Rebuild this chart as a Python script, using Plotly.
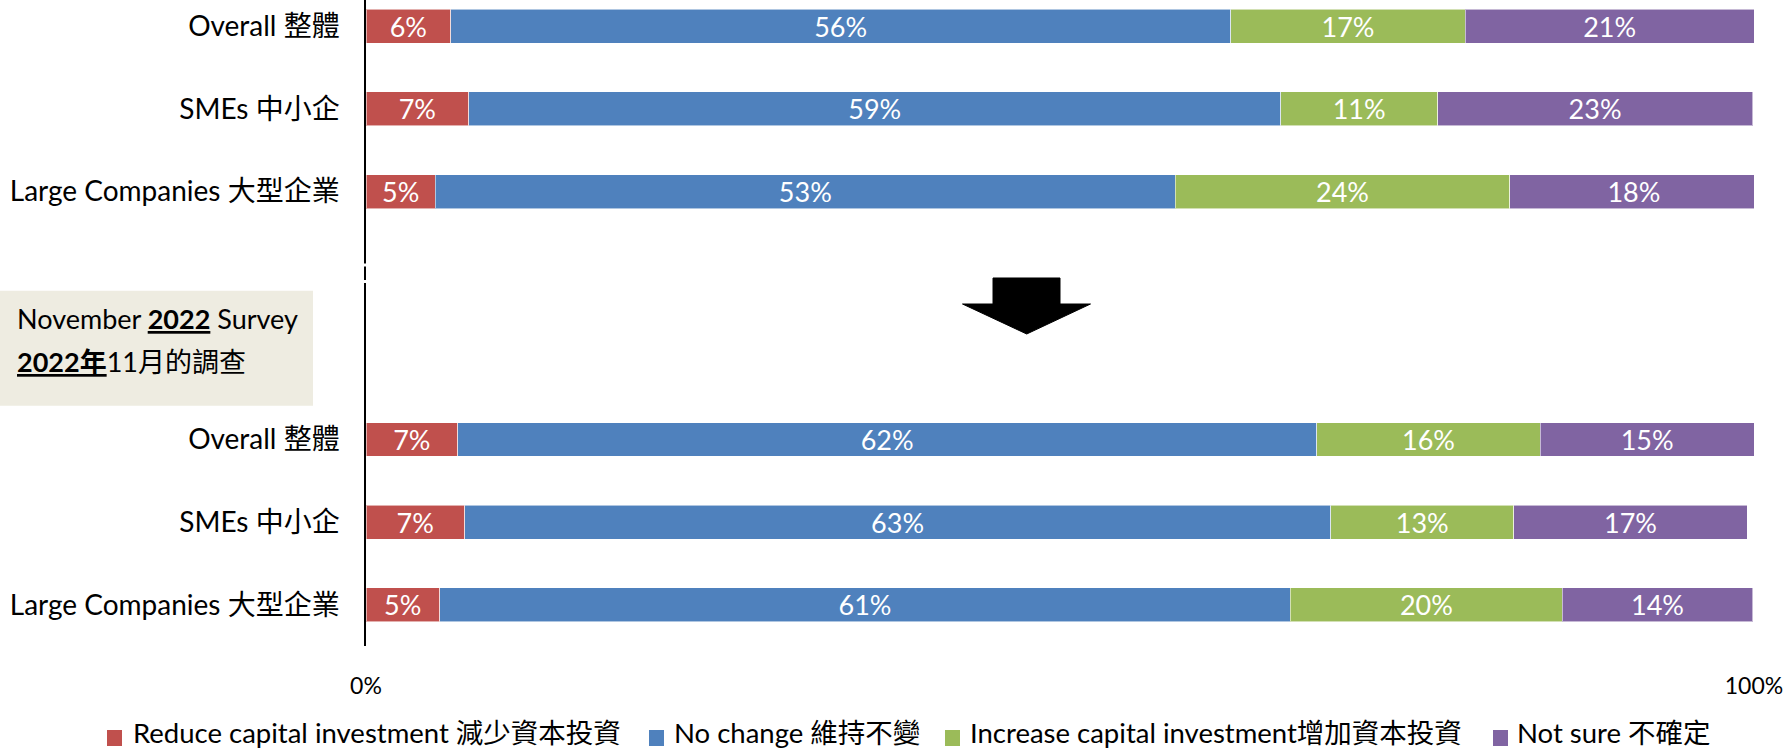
import plotly.graph_objects as go

# ---------------- data ----------------
categories = ["Overall 整體", "SMEs 中小企", "Large Companies 大型企業",
              "Overall 整體", "SMEs 中小企", "Large Companies 大型企業"]
cat_pos = [0, 1, 2, 5, 6, 7]   # slots 3 and 4 left empty (gap between surveys)

series_names = ["Reduce capital investment 減少資本投資", "No change 維持不變",
                "Increase capital investment增加資本投資", "Not sure 不確定"]
colors = ["#C0504D", "#4F81BD", "#9BBB59", "#8064A2"]

reduce_vals   = [6.1, 7.4, 5.0, 6.6, 7.1, 5.3]
nochange_vals = [56.2, 58.5, 53.3, 61.9, 62.4, 61.3]
increase_vals = [16.9, 11.3, 24.1, 16.1, 13.2, 19.6]
notsure_vals  = [20.8, 22.7, 17.9, 15.4, 16.8, 13.7]

reduce_lbl   = ["6%", "7%", "5%", "7%", "7%", "5%"]
nochange_lbl = ["56%", "59%", "53%", "62%", "63%", "61%"]
increase_lbl = ["17%", "11%", "24%", "16%", "13%", "20%"]
notsure_lbl  = ["21%", "23%", "18%", "15%", "17%", "14%"]

x_tickvals = [0, 100]
x_ticktext = ["0%", "100%"]

# ---------------- figure ----------------
W, H = 1785, 750
ML, MR, MT, MB = 366, 31, 0, 104
PW, PH = W - ML - MR, H - MT - MB

FONT = "Lato, 'Noto Sans CJK TC', 'Noto Sans', sans-serif"

def xp(px):
    return (px - ML) / PW

def yp(py):
    return 1 - (py - MT) / PH

fig = go.Figure()
all_vals = [reduce_vals, nochange_vals, increase_vals, notsure_vals]
all_lbls = [reduce_lbl, nochange_lbl, increase_lbl, notsure_lbl]
for name, col, vals, lbls in zip(series_names, colors, all_vals, all_lbls):
    fig.add_trace(go.Bar(
        x=vals, y=cat_pos, orientation="h", name=name,
        marker=dict(color=col, line=dict(color="rgba(255,255,255,0.55)", width=1)),
        width=0.41,
        text=lbls, textposition="inside", insidetextanchor="middle",
        textangle=0, constraintext="none",
        textfont=dict(family=FONT, size=27, color="white"),
        hoverinfo="skip", showlegend=False,
    ))

fig.update_layout(
    width=W, height=H, barmode="stack",
    margin=dict(l=ML, r=MR, t=MT, b=MB, pad=0, autoexpand=False),
    plot_bgcolor="white", paper_bgcolor="white",
    font=dict(family=FONT, size=25, color="black"),
    showlegend=False,
    xaxis=dict(range=[0, 100], tickvals=x_tickvals, ticktext=x_ticktext,
               showgrid=False, zeroline=False, showline=False, ticks="",
               ticklabelstandoff=24, tickfont=dict(family=FONT, size=23, color="black"),
               fixedrange=True),
    yaxis=dict(range=[7.499, -0.318], tickvals=cat_pos, ticktext=categories,
               showgrid=False, zeroline=False, showline=True, linecolor="black", linewidth=1.5,
               ticks="", ticklabelstandoff=19, tickfont=dict(family=FONT, size=28, color="black"),
               fixedrange=True),
)

shapes = []
# breaks in the vertical axis line
for y0, y1 in [(263.5, 266.5), (280, 283)]:
    shapes.append(dict(type="rect", xref="paper", yref="paper",
                       x0=xp(ML - 3), x1=xp(ML + 3), y0=yp(y1), y1=yp(y0),
                       fillcolor="white", line=dict(width=0), layer="above"))
# survey label box
shapes.append(dict(type="rect", xref="paper", yref="paper",
                   x0=xp(0), x1=xp(313), y0=yp(405.7), y1=yp(290.7),
                   fillcolor="#EEECE1", line=dict(width=0), layer="below"))
# down arrow
pts = [(993, 278), (1060, 278), (1060, 304), (1090.5, 304), (1026.7, 334),
       (962.5, 304), (993, 304)]
path = "M " + " L ".join(f"{xp(a):.5f},{yp(b):.5f}" for a, b in pts) + " Z"
shapes.append(dict(type="path", xref="paper", yref="paper", path=path,
                   fillcolor="black", line=dict(color="black", width=1)))

# legend (drawn manually so it stays on one row)
legend_square_x = [107, 649, 945, 1493]
legend_text_x = [131, 672, 968, 1515]
for name, col, sx, tx in zip(series_names, colors, legend_square_x, legend_text_x):
    shapes.append(dict(type="rect", xref="paper", yref="paper",
                       x0=xp(sx), x1=xp(sx + 15), y0=yp(746), y1=yp(730),
                       fillcolor=col, line=dict(width=0)))
    fig.add_annotation(xref="paper", yref="paper", x=xp(tx), y=yp(732),
                       xanchor="left", yanchor="middle", showarrow=False,
                       text=name, font=dict(family=FONT, size=27.5, color="black"))
fig.update_layout(shapes=shapes)

ul = "text-decoration:underline"
fig.add_annotation(xref="paper", yref="paper", x=xp(15), y=yp(318),
                   xanchor="left", yanchor="middle", showarrow=False,
                   text=f"November <b><span style='{ul}'>2022</span></b> Survey",
                   font=dict(family=FONT, size=27, color="black"))
fig.add_annotation(xref="paper", yref="paper", x=xp(15), y=yp(361.7),
                   xanchor="left", yanchor="middle", showarrow=False,
                   text=f"<b><span style='{ul}'>2022年</span></b>11月的調查",
                   font=dict(family=FONT, size=27, color="black"))

fig.write_html("out.html", config={"displayModeBar": False},
               post_script="document.body.style.margin='0';document.body.style.overflow='hidden';")
